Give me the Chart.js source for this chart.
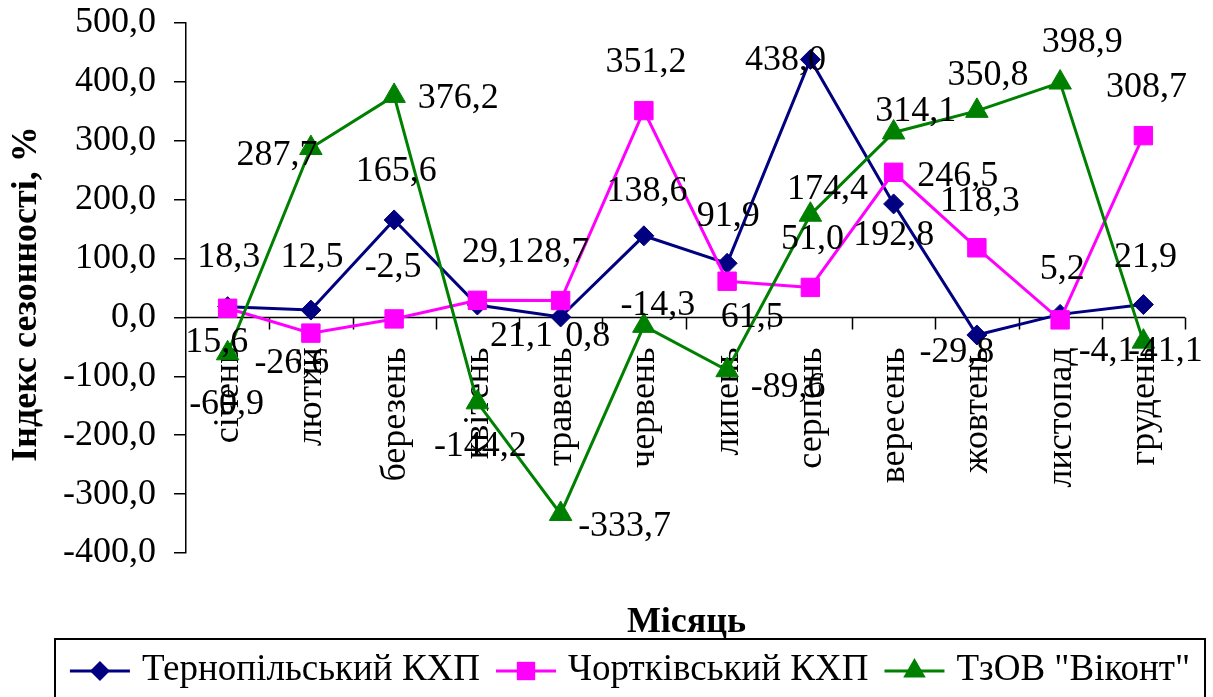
<!DOCTYPE html>
<html>
<head>
<meta charset="utf-8">
<script src="https://cdn.jsdelivr.net/npm/chart.js@4/dist/chart.umd.min.js"></script>
<style>
  html, body { margin: 0; padding: 0; background: #fff; overflow: hidden; }
  #wrap { width: 1213px; height: 697px; position: relative; }
</style>
</head>
<body>
<div id="wrap"><canvas id="chart" width="1213" height="697"></canvas></div>
<script>
// Monthly seasonality index, %
const months = ['сiчень', 'лютий', 'березень', 'квітень', 'травень', 'червень',
                'липень', 'серпень', 'вересень', 'жовтень', 'листопад', 'грудень'];
const ternopil = [18.3, 12.5, 165.6, 21.1, 0.8, 138.6, 91.9, 438.0, 192.8, -29.8, 5.2, 21.9];
const chortkiv = [15.6, -26.6, -2.5, 29.1, 28.7, 351.2, 61.5, 51.0, 246.5, 118.3, -4.1, 308.7];
const vikont   = [-60.9, 287.7, 376.2, -144.2, -333.7, -14.3, -89.6, 174.4, 314.1, 350.8, 398.9, -41.1];
const seriesNames = ['Тернопільський КХП', 'Чортківський КХП', 'ТзОВ "Віконт"'];
const yMin = -400, yMax = 500, yStep = 100;
const yTitle = 'Індекс сезонності, %';
const xTitle = 'Місяць';

// Value-label placement (offset of the label centre from its point, px)
const ternopilLabelShift = [[1,-49],[1,-53],[2,-48],[44,32],[27,20],[3,-44],[1,-47],[-25,1],[0,32],[-20,18],[2,-45],[2,-47]];
const chortkivLabelShift = [[-11,34],[-19,30],[-1,-51],[16,-48],[-3,-48],[2,-48],[25,36],[2,-48],[64,4],[3,-46],[47,32],[3,-48]];
const vikontLabelShift   = [[-1,51],[-34,8],[64,3],[3,44],[64,13],[14,-20],[61,17],[17,-25],[22,-21],[11,-35],[22,-40],[22,10]];

const SERIF = '"Liberation Serif", "Times New Roman", serif';
const fmt = v => v.toFixed(1).replace('.', ',');

// Zero line with category tick marks and rotated month names
const categoryAxisPlugin = {
  id: 'categoryAxis',
  beforeDatasetsDraw(chart) {
    const { ctx, scales: { x, y } } = chart;
    const y0 = y.getPixelForValue(0);
    const n = months.length;
    const step = (x.right - x.left) / n;
    ctx.save();
    ctx.strokeStyle = '#000';
    ctx.lineWidth = 1.5;
    ctx.beginPath();
    ctx.moveTo(x.left, y0);
    ctx.lineTo(x.right, y0);
    for (let i = 1; i <= n; i++) {
      const px = Math.round(x.left + i * step) + 0.5;
      ctx.moveTo(px, y0);
      ctx.lineTo(px, y0 + 12);
    }
    ctx.stroke();
    ctx.fillStyle = '#000';
    ctx.font = '36px ' + SERIF;
    ctx.textAlign = 'right';
    ctx.textBaseline = 'middle';
    months.forEach((m, i) => {
      const px = x.getPixelForValue(i);
      ctx.save();
      ctx.translate(px + 1, y0 + 30);
      ctx.rotate(-Math.PI / 2);
      ctx.fillText(m, 0, 0);
      ctx.restore();
    });
    ctx.restore();
  }
};

function drawMarkerPath(ctx, style, r, x, y) {
  if (style === 'rectRot') {
    ctx.moveTo(x - r, y); ctx.lineTo(x, y - r); ctx.lineTo(x + r, y); ctx.lineTo(x, y + r); ctx.closePath();
  } else if (style === 'rect') {
    const s = r * Math.SQRT1_2;
    ctx.rect(x - s, y - s, 2 * s, 2 * s);
  } else {
    ctx.moveTo(x, y - r);
    ctx.lineTo(x + r * Math.sin(2 * Math.PI / 3), y - r * Math.cos(2 * Math.PI / 3));
    ctx.lineTo(x + r * Math.sin(4 * Math.PI / 3), y - r * Math.cos(4 * Math.PI / 3));
    ctx.closePath();
  }
}

// Value labels, axis titles and the boxed legend
const annotatePlugin = {
  id: 'annotate',
  afterDatasetsDraw(chart) {
    const { ctx, scales: { x, y } } = chart;
    ctx.save();
    ctx.fillStyle = '#000';
    ctx.font = '36px ' + SERIF;
    ctx.textAlign = 'center';
    ctx.textBaseline = 'middle';
    const shifts = [ternopilLabelShift, chortkivLabelShift, vikontLabelShift];
    chart.data.datasets.forEach((ds, di) => {
      const meta = chart.getDatasetMeta(di);
      meta.data.forEach((pt, i) => {
        const [dx, dy] = shifts[di][i];
        ctx.fillText(fmt(ds.data[i]), pt.x + dx, pt.y + dy);
      });
    });

    // y-axis title
    ctx.font = 'bold 36px ' + SERIF;
    ctx.save();
    ctx.translate(27, (y.top + y.bottom) / 2 + 6);
    ctx.rotate(-Math.PI / 2);
    ctx.fillText(yTitle, 0, 0);
    ctx.restore();

    // x-axis title
    ctx.fillText(xTitle, (x.left + x.right) / 2 + 1, 623);

    // legend
    const boxL = 55, boxR = 1205, boxT = 639;
    ctx.strokeStyle = '#000';
    ctx.lineWidth = 2;
    ctx.strokeRect(boxL, boxT, boxR - boxL, 120);
    ctx.font = '37px ' + SERIF;
    const lineLen = 60, gapText = 12, gapItem = 16;
    const widths = chart.data.datasets.map(ds => ctx.measureText(ds.label).width);
    const total = widths.reduce((a, b) => a + b, 0) + 3 * (lineLen + gapText) + 2 * gapItem;
    let cx = (boxL + boxR) / 2 - total / 2;
    const ly = 671;
    chart.data.datasets.forEach((ds, di) => {
      ctx.strokeStyle = ds.borderColor;
      ctx.lineWidth = 3;
      ctx.beginPath();
      ctx.moveTo(cx, ly);
      ctx.lineTo(cx + lineLen, ly);
      ctx.stroke();
      ctx.fillStyle = ds.borderColor;
      ctx.beginPath();
      drawMarkerPath(ctx, ds.pointStyle, ds.pointRadius, cx + lineLen / 2, ly);
      ctx.fill();
      ctx.fillStyle = '#000';
      ctx.textAlign = 'left';
      ctx.fillText(ds.label, cx + lineLen + gapText, ly - 1);
      cx += lineLen + gapText + widths[di] + gapItem;
    });
    ctx.restore();
  }
};

const mkSeries = (label, data, color, style, radius, order) => ({
  label, data,
  borderColor: color, backgroundColor: color,
  pointBackgroundColor: color, pointBorderColor: color,
  borderWidth: 3, pointStyle: style, pointRadius: radius, pointBorderWidth: 1,
  tension: 0, order
});

new Chart(document.getElementById('chart'), {
  type: 'line',
  data: {
    labels: months,
    datasets: [
      mkSeries(seriesNames[0], ternopil, '#000080', 'rectRot', 10, 3),
      mkSeries(seriesNames[1], chortkiv, '#FF00FF', 'rect', 13, 2),
      mkSeries(seriesNames[2], vikont, '#008000', 'triangle', 13, 1)
    ]
  },
  options: {
    responsive: false,
    animation: false,
    events: [],
    layout: { padding: { left: 0, right: 28, top: 23, bottom: 144 } },
    plugins: { legend: { display: false }, tooltip: { enabled: false } },
    scales: {
      x: { type: 'category', offset: true, display: false },
      y: {
        min: yMin, max: yMax,
        ticks: {
          stepSize: yStep, color: '#000', padding: 18,
          font: { family: SERIF, size: 36, lineHeight: 1 },
          callback: v => fmt(v)
        },
        grid: { drawOnChartArea: false, drawTicks: true, tickLength: 12, color: '#000', lineWidth: 1.5 },
        border: { display: true, color: '#000', width: 1.5 },
        afterFit(scale) {
          scale.width = 186;
          scale.paddingTop = 0;
          scale.paddingBottom = 0;
        }
      }
    }
  },
  plugins: [categoryAxisPlugin, annotatePlugin]
});
</script>
</body>
</html>
